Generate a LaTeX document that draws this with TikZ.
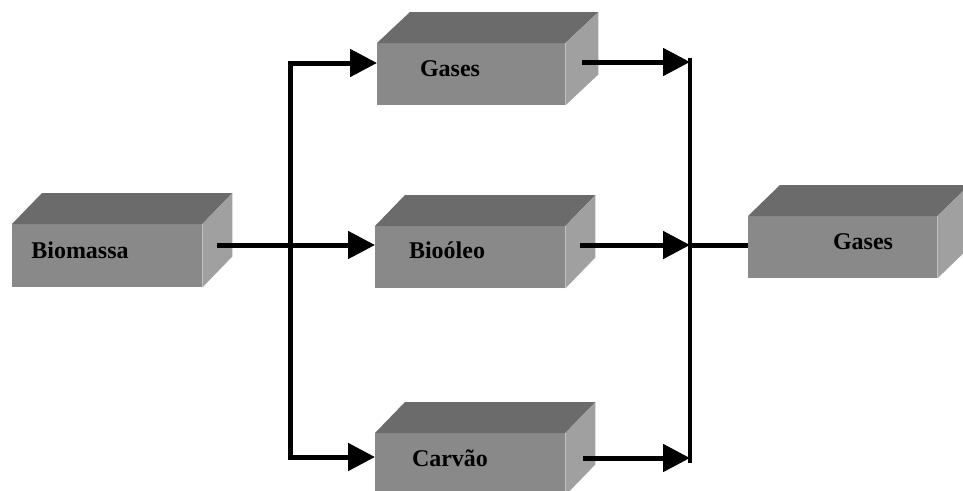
\documentclass[tikz,border=0pt]{standalone}
\usepackage{fontspec}
\setmainfont{Liberation Serif}
\usetikzlibrary{arrows.meta,calc}
\definecolor{frontc}{RGB}{137,137,137}
\definecolor{topc}{RGB}{107,107,107}
\definecolor{sidec}{RGB}{160,160,160}
\tikzset{
  boxfront/.style={rectangle, fill=frontc, inner sep=0pt, anchor=north west},
  boxlabel/.style={font=\fontsize{24}{26}\selectfont\bfseries, inner sep=0pt},
  flow/.style={line width=5pt},
  flowarrow/.style={line width=5pt, -{Triangle[length=27pt,width=27pt]}, shorten >=0pt},
  bar/.style={line width=4.5pt}
}
\newcommand{\mycube}[7]{%
  % #1 name, #2 x, #3 y, #4 w, #5 h, #6 dx, #7 dy
  \node[boxfront, minimum width=#4pt, minimum height=#5pt] (#1) at (#2,#3) {};
  \fill[topc] (#1.north west) -- ++(#6,-#7) -- ($(#1.north east)+(#6pt,#7pt)$) -- (#1.north east) -- cycle;
  \fill[sidec] (#1.north east) -- ++(#6,-#7) -- ($(#1.south east)+(#6pt,#7pt)$) -- (#1.south east) -- cycle;
}
\begin{document}
\begin{tikzpicture}[x=1pt,y=-1pt]
\useasboundingbox (0,0) rectangle (963,490);
\clip (0,0) rectangle (963,490);
\fill[white] (0,0) rectangle (963,490);
% boxes
\mycube{bio}{12}{224}{190}{63}{30}{31}
\mycube{gtop}{377}{43}{188}{62}{33}{31}
\mycube{bo}{375}{226}{190}{62}{30}{31}
\mycube{ca}{375}{433}{190}{62}{30}{31}
\mycube{gfin}{748}{216}{189}{62}{32}{31}
% labels
\node[boxlabel] (bioT) at (80,250) {Biomassa};
\node[boxlabel] (gtopT) at (450,69) {Gases};
\node[boxlabel] (boT) at (447,250) {Bioóleo};
\node[boxlabel] (caT) at (450,458) {Carvão};
\node[boxlabel] (gfinT) at (863,242) {Gases};
% junction coordinates
\coordinate (bioout) at (217,245);
\coordinate (lmid) at (290,245);
\coordinate (ltop) at (290,63);
\coordinate (lbot) at (290,457);
\coordinate (gtopin) at (377,63);
\coordinate (boin) at (375,245);
\coordinate (cain) at (375,457);
\coordinate (gtopout) at (582,62);
\coordinate (boout) at (580,245);
\coordinate (caout) at (583,458);
\coordinate (rtop) at (690,58);
\coordinate (rbot) at (690,463);
\coordinate (r1) at (690,62);
\coordinate (r2) at (690,245);
\coordinate (r3) at (690,458);
\coordinate (gfinin) at (748,245);
% left distribution
\draw[flow] (bioout) -- (lmid);
\draw[flowarrow] (lmid) -- (boin);
\draw[flowarrow, line join=miter] (lbot) -- (ltop) -- (gtopin);
\draw[flowarrow, line join=miter] (lmid) -- (lbot) -- (cain);
% right collection
\draw[bar] (rtop) -- (rbot);
\draw[flowarrow] (gtopout) -- (r1);
\draw[flowarrow] (boout) -- (r2);
\draw[flowarrow] (caout) -- (r3);
\draw[flow] (r2) -- (gfinin);
\end{tikzpicture}
\end{document}
